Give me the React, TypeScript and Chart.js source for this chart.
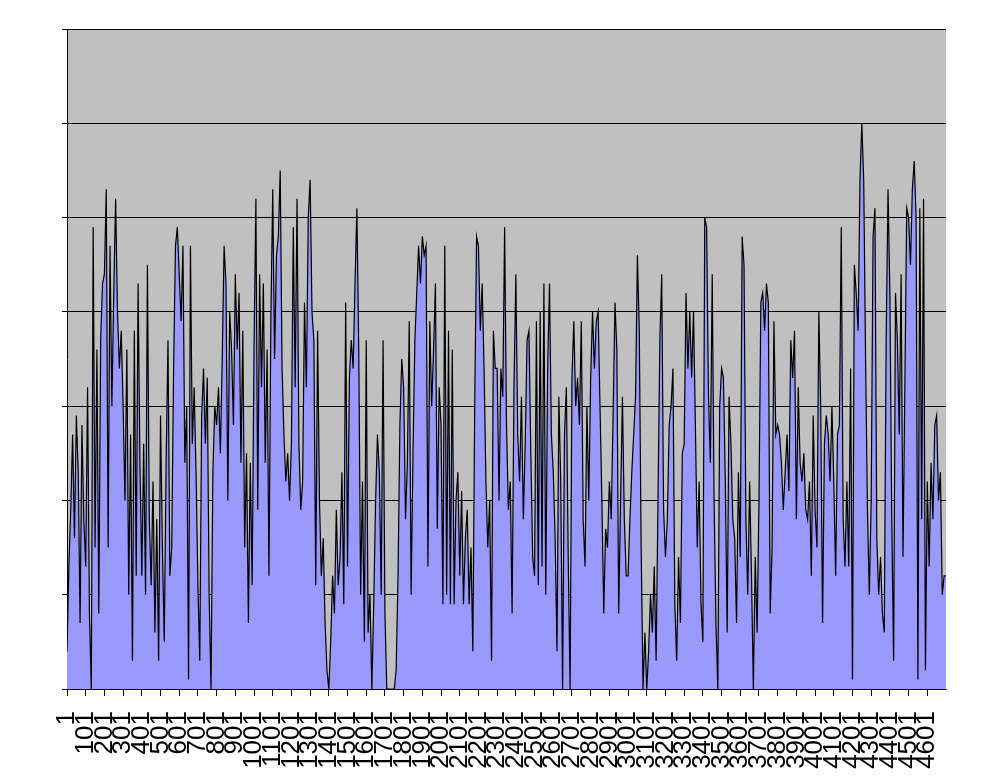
import { useEffect, useRef } from 'react';
import Chart from 'chart.js/auto';

// x-axis labels, one every 100 samples
const TICK_LABELS = [
  '1', '101', '201', '301', '401', '501', '601', '701', '801', '901',
  '1001', '1101', '1201', '1301', '1401', '1501', '1601', '1701', '1801', '1901',
  '2001', '2101', '2201', '2301', '2401', '2501', '2601', '2701', '2801', '2901',
  '3001', '3101', '3201', '3301', '3401', '3501', '3601', '3701', '3801', '3901',
  '4001', '4101', '4201', '4301', '4401', '4501', '4601',
];

const X_START = 1;
const X_STEP = 10; // one value read every 10 samples
const X_END = 4701;
const Y_MAX = 7;

// values, one row per 100 samples
const VALUES = [
  0.4, 1.3, 1.9, 2.7, 1.6, 2.9, 2.3, 0.7, 2.8, 1.8,
  1.3, 3.2, 0.8, 0.0, 4.9, 1.5, 3.6, 0.8, 3.7, 4.3,
  4.4, 5.3, 1.5, 4.7, 3.0, 4.2, 5.2, 4.0, 3.4, 3.8,
  3.0, 2.0, 3.6, 1.0, 2.7, 0.3, 3.8, 1.2, 4.3, 2.4,
  1.2, 2.6, 1.0, 4.5, 1.8, 1.1, 2.2, 0.6, 1.8, 0.3,
  2.9, 1.5, 0.5, 2.4, 3.7, 1.2, 1.5, 3.4, 4.7, 4.9,
  4.4, 3.9, 4.7, 2.4, 3.0, 0.1, 4.7, 2.6, 3.2, 2.3,
  1.1, 0.3, 2.9, 3.4, 2.6, 3.3, 1.0, 0.0, 2.3, 3.0,
  2.8, 3.2, 2.5, 3.5, 4.7, 4.3, 2.0, 4.0, 3.6, 2.8,
  4.4, 3.6, 4.2, 2.4, 3.8, 1.5, 2.5, 0.7, 2.4, 1.1,
  3.6, 5.2, 1.9, 4.4, 3.2, 4.3, 2.4, 3.6, 1.2, 3.9,
  5.3, 3.5, 4.6, 4.8, 5.5, 3.4, 2.7, 2.2, 2.5, 2.0,
  2.6, 4.9, 3.2, 5.2, 2.6, 1.9, 2.2, 4.1, 3.2, 5.0,
  5.4, 4.0, 3.7, 1.1, 3.8, 2.0, 1.2, 1.6, 0.7, 0.2,
  0.0, 0.5, 1.2, 0.8, 1.9, 1.1, 1.4, 2.3, 0.9, 4.1,
  1.3, 3.3, 3.7, 3.4, 4.3, 5.1, 3.6, 1.0, 2.2, 0.5,
  3.7, 0.6, 1.0, 0.0, 0.9, 2.0, 2.7, 2.3, 1.0, 3.7,
  0.8, 0.0, 0.0, 0.0, 0.0, 0.0, 0.2, 1.2, 2.8, 3.5,
  3.2, 1.8, 2.4, 3.9, 1.0, 2.5, 3.7, 4.2, 4.7, 4.3,
  4.8, 4.6, 4.7, 1.3, 3.9, 3.0, 3.6, 4.3, 1.7, 3.2,
  2.8, 0.9, 4.7, 1.0, 3.8, 0.9, 3.6, 0.9, 2.0, 2.3,
  1.2, 2.1, 0.9, 1.6, 1.9, 0.9, 1.5, 0.4, 3.0, 4.8,
  4.7, 3.8, 4.3, 3.4, 2.2, 1.5, 2.0, 0.3, 3.8, 3.4,
  3.4, 2.0, 3.4, 3.1, 4.9, 2.8, 1.9, 2.2, 0.8, 3.2,
  4.4, 2.7, 2.2, 3.1, 1.8, 2.6, 3.7, 3.8, 2.5, 1.4,
  1.2, 3.9, 1.1, 4.0, 1.3, 4.3, 1.0, 3.4, 4.3, 2.7,
  2.3, 1.6, 0.4, 3.1, 2.2, 0.0, 2.7, 3.2, 1.4, 0.0,
  3.3, 3.9, 3.0, 3.3, 2.8, 3.9, 1.8, 1.3, 3.0, 2.0,
  3.3, 4.0, 3.4, 3.9, 4.0, 3.0, 2.0, 0.8, 1.7, 1.5,
  2.2, 1.8, 2.9, 4.1, 3.6, 0.8, 2.0, 3.1, 1.8, 1.2,
  1.2, 1.8, 2.3, 2.7, 3.1, 4.6, 3.8, 1.5, 0.0, 0.6,
  0.0, 0.4, 1.0, 0.6, 1.3, 0.3, 2.0, 3.7, 4.4, 1.9,
  1.4, 1.8, 2.8, 3.0, 3.4, 0.9, 0.3, 1.4, 0.7, 2.5,
  2.6, 4.2, 3.4, 4.0, 3.3, 4.0, 2.8, 1.5, 2.2, 0.9,
  0.5, 5.0, 4.9, 3.1, 2.4, 4.4, 2.0, 0.7, 0.0, 3.0,
  3.4, 3.3, 2.2, 0.6, 3.1, 2.6, 1.8, 1.6, 0.7, 2.3,
  1.4, 4.8, 4.5, 1.8, 1.0, 2.2, 1.2, 0.0, 1.4, 0.6,
  2.0, 4.1, 4.2, 3.8, 4.3, 4.1, 0.8, 1.5, 3.9, 2.7,
  2.8, 2.7, 2.4, 1.9, 2.3, 2.7, 2.1, 3.7, 3.3, 3.8,
  1.8, 3.2, 2.4, 2.2, 2.5, 1.9, 1.8, 2.2, 1.2, 2.9,
  1.9, 1.5, 4.0, 3.0, 0.7, 2.6, 2.9, 2.7, 2.2, 3.0,
  2.2, 1.2, 2.7, 2.8, 4.9, 1.8, 1.3, 2.2, 1.3, 3.4,
  0.1, 4.5, 4.2, 3.8, 5.4, 6.0, 5.4, 3.5, 1.9, 1.0,
  2.0, 4.8, 5.1, 1.6, 1.0, 1.4, 0.8, 0.6, 3.7, 5.3,
  4.2, 1.8, 0.3, 4.2, 3.7, 2.7, 4.4, 1.4, 3.2, 5.1,
  5.0, 4.5, 5.3, 5.6, 5.0, 0.1, 5.1, 1.8, 5.2, 0.2,
  2.2, 1.3, 2.4, 1.8, 2.8, 2.9, 2.0, 2.3, 1.0, 1.2,
  1.2,
];

// grey plot area like the old Excel default
const plotBackground = {
  id: 'plotBackground',
  beforeDraw(chart: Chart) {
    const { ctx, chartArea } = chart;
    if (!chartArea) return;
    ctx.save();
    ctx.fillStyle = '#C0C0C0';
    ctx.fillRect(chartArea.left, chartArea.top, chartArea.width, chartArea.height);
    ctx.restore();
  },
};

const App = () => {
  const canvasRef = useRef<HTMLCanvasElement | null>(null);

  useEffect(() => {
    if (!canvasRef.current) return;
    const points = VALUES.map((v, i) => ({ x: X_START + i * X_STEP, y: v }));

    const chart = new Chart(canvasRef.current, {
      type: 'line',
      data: {
        datasets: [
          {
            data: points,
            fill: 'origin',
            backgroundColor: '#9999FF',
            borderColor: '#000000',
            borderWidth: 1.2,
            pointRadius: 0,
            tension: 0,
          },
        ],
      },
      options: {
        animation: false,
        responsive: true,
        maintainAspectRatio: false,
        layout: { padding: { top: 29, right: 37, left: 0, bottom: 0 } },
        plugins: { legend: { display: false }, tooltip: { enabled: false } },
        scales: {
          x: {
            type: 'linear',
            min: X_START,
            max: X_END,
            afterBuildTicks: (scale: any) => {
              scale.ticks = TICK_LABELS.map((l) => ({ value: Number(l) }));
            },
            afterFit: (scale: any) => {
              scale.height = 94;
            },
            grid: { drawOnChartArea: false, color: '#000000', tickLength: 7 },
            border: { color: '#000000' },
            ticks: {
              autoSkip: false,
              minRotation: 90,
              maxRotation: 90,
              padding: 15,
              color: '#000000',
              font: { family: 'Liberation Sans', size: 26 },
              callback: (v: any) => String(v),
            },
          },
          y: {
            min: 0,
            max: Y_MAX,
            ticks: { stepSize: 1, display: false },
            grid: { color: '#000000', tickLength: 5 },
            border: { color: '#000000' },
            afterFit: (scale: any) => {
              scale.width = 67;
            },
          },
        },
      },
      plugins: [plotBackground],
    });

    return () => chart.destroy();
  }, []);

  return (
    <div style={{ position: 'fixed', left: 0, top: 0, width: 983, height: 783, background: '#fff' }}>
      <canvas ref={canvasRef} />
    </div>
  );
};

export default App;
